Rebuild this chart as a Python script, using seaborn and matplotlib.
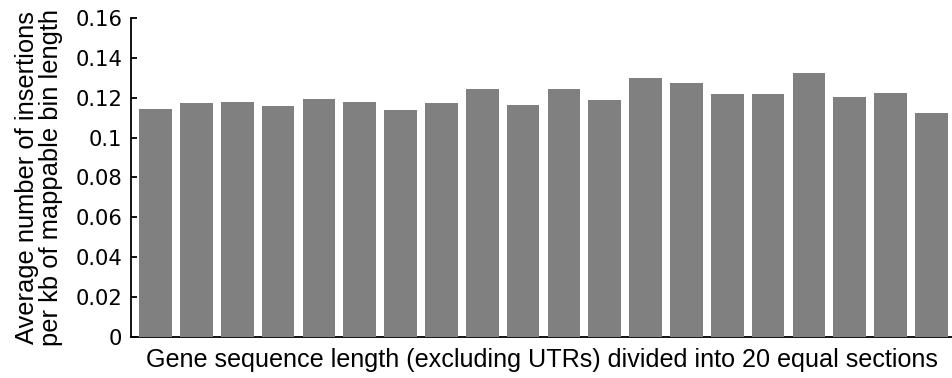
import matplotlib
matplotlib.use("Agg")
import matplotlib.pyplot as plt
import seaborn as sns
import pandas as pd

sections = list(range(1, 21))
insertions = [0.1144, 0.1174, 0.1179, 0.1159, 0.1194, 0.1179, 0.1139, 0.1174, 0.1245, 0.1164,
              0.1245, 0.1190, 0.1300, 0.1275, 0.1220, 0.1220, 0.1325, 0.1205, 0.1225, 0.1124]
yticks = [0, 0.02, 0.04, 0.06, 0.08, 0.1, 0.12, 0.14, 0.16]
ytick_labels = ["0", "0.02", "0.04", "0.06", "0.08", "0.1", "0.12", "0.14", "0.16"]

df = pd.DataFrame({"section": sections, "value": insertions})

sns.set_style("ticks")
plt.rcParams["font.family"] = ["DejaVu Sans"]
plt.rcParams["text.color"] = "black"
plt.rcParams["axes.labelcolor"] = "black"
plt.rcParams["xtick.color"] = "black"
plt.rcParams["ytick.color"] = "black"

fig = plt.figure(figsize=(9.53, 3.78), dpi=100)
ax = fig.add_axes([0.1371, 0.1093, 0.8629, 0.8423])

sns.barplot(data=df, x="section", y="value", color="#808080", saturation=1,
            width=0.8, ax=ax, zorder=3, linewidth=0)

ax.set_xlim(-0.612, 19.53)
ax.set_ylim(0, 0.16)
ax.set_yticks(yticks)
ax.set_yticklabels(ytick_labels, fontsize=15.2, color="black")
ax.set_xticks([])
ax.tick_params(axis="y", direction="in", length=4, width=1.3, color="black", pad=6)

for s in ["top", "right"]:
    ax.spines[s].set_visible(False)
for s in ["left", "bottom"]:
    ax.spines[s].set_color("black")
    ax.spines[s].set_linewidth(1.3)

ax.set_xlabel("Gene sequence length (excluding UTRs) divided into 20 equal sections",
              fontsize=18.1, family="Liberation Sans", labelpad=8, color="black")
ax.set_ylabel("Average number of insertions\nper kb of mappable bin length",
              fontsize=18.4, family="Liberation Sans", labelpad=9, linespacing=1.0,
              color="black")

fig.savefig("out.png", dpi=100)
